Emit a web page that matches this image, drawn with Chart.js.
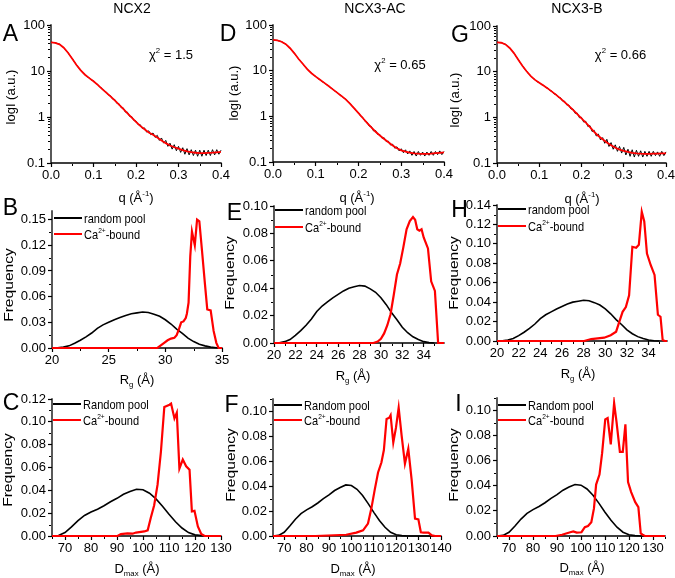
<!DOCTYPE html>
<html><head><meta charset="utf-8">
<script src="https://cdn.jsdelivr.net/npm/chart.js@4/dist/chart.umd.min.js"></script>
<style>
html,body{margin:0;padding:0;background:#fff}
body{width:675px;height:578px;position:relative;overflow:hidden;font-family:'Liberation Sans',Arial,Helvetica,sans-serif;color:#000}
canvas{position:absolute}
.t{position:absolute;white-space:nowrap;line-height:1}
sup,sub{font-size:0.6em;line-height:0}
</style>
</head><body>
<script>
// ---------- DATA ----------
const qFit=[0,0.01,0.02,0.03,0.04,0.05,0.06,0.07,0.08,0.09,0.10,0.11,0.12,0.13,0.14,0.15,0.16,0.17,0.18,0.19,0.20,0.21,0.22,0.23,0.24,0.25,0.26,0.27,0.28,0.29,0.30,0.31,0.32,0.33,0.34,0.35,0.36,0.37,0.38,0.39,0.40];
const qExp=[0,0.005,0.01,0.015,0.02,0.025,0.03,0.035,0.04,0.045,0.05,0.055,0.06,0.065,0.07,0.075,0.08,0.085,0.09,0.095,0.1,0.105,0.11,0.115,0.12,0.125,0.13,0.135,0.14,0.145,0.15,0.155,0.16,0.165,0.17,0.175,0.18,0.185,0.19,0.195,0.2,0.205,0.21,0.215,0.22,0.225,0.23,0.235,0.24,0.245,0.25,0.255,0.26,0.265,0.27,0.275,0.28,0.285,0.29,0.295,0.3,0.305,0.31,0.315,0.32,0.325,0.33,0.335,0.34,0.345,0.35,0.355,0.36,0.365,0.37,0.375,0.38,0.385,0.39,0.395,0.4];

const ncx2Exp=[42.3,41.6,41.2,39.4,38.3,35.1,32.2,28.3,25.2,21.4,18.7,15.7,13.6,11.7,10.4,9.1,8.4,7.5,7.1,6.4,6.1,5.4,5.1,4.45,4.2,3.65,3.5,3.0,2.9,2.45,2.4,1.98,1.95,1.6,1.58,1.28,1.27,1.03,1.02,0.84,0.82,0.68,0.68,0.56,0.58,0.47,0.50,0.41,0.45,0.36,0.40,0.31,0.35,0.27,0.31,0.23,0.27,0.2,0.25,0.185,0.23,0.17,0.215,0.155,0.205,0.15,0.195,0.145,0.19,0.14,0.19,0.14,0.19,0.145,0.19,0.145,0.195,0.15,0.195,0.155,0.19];
const ncx2Fit=[42,41,38,32,25,18.5,13.5,10.3,8.3,7.0,6.0,5.0,4.1,3.4,2.8,2.3,1.85,1.5,1.2,0.97,0.78,0.64,0.54,0.46,0.41,0.36,0.31,0.27,0.24,0.22,0.205,0.19,0.18,0.172,0.167,0.164,0.164,0.166,0.168,0.171,0.174];
const acExp=[47.4,46.5,46.2,44.5,43.3,40.4,38.2,34.3,31.2,27.3,24.2,20.6,18.1,15.8,14.1,12.2,10.9,9.6,8.9,7.95,7.5,6.7,6.35,5.75,5.45,4.95,4.65,4.2,3.95,3.55,3.35,3.0,2.85,2.52,2.4,2.08,1.94,1.66,1.53,1.3,1.21,1.01,0.95,0.78,0.75,0.61,0.6,0.48,0.49,0.4,0.4,0.33,0.34,0.28,0.285,0.235,0.245,0.2,0.215,0.175,0.195,0.16,0.185,0.15,0.175,0.14,0.17,0.135,0.17,0.14,0.165,0.135,0.165,0.14,0.17,0.14,0.17,0.145,0.175,0.145,0.17];
const acFit=[47,46,43,38,31,24,18,14,10.8,8.8,7.4,6.3,5.4,4.6,3.9,3.3,2.8,2.35,1.9,1.5,1.18,0.92,0.72,0.57,0.46,0.38,0.32,0.27,0.23,0.2,0.18,0.168,0.16,0.155,0.152,0.151,0.151,0.153,0.156,0.159,0.162];
const bExp=[44.3,43.6,43.2,41.2,39.8,36.2,33.3,29.0,25.8,21.6,18.7,15.6,13.7,11.6,10.3,8.9,8.1,7.15,6.7,6.0,5.8,5.2,5.05,4.5,4.4,3.85,3.75,3.25,3.2,2.75,2.7,2.28,2.25,1.87,1.86,1.52,1.52,1.22,1.24,0.98,1.0,0.79,0.82,0.63,0.66,0.49,0.52,0.39,0.43,0.32,0.36,0.27,0.33,0.23,0.28,0.2,0.25,0.18,0.23,0.165,0.22,0.15,0.2,0.14,0.195,0.135,0.19,0.14,0.185,0.135,0.18,0.14,0.18,0.14,0.18,0.145,0.175,0.14,0.18,0.145,0.175];
const bFit=[44,43,39.5,33,25.5,18.5,13.5,10.2,8.0,6.6,5.7,4.95,4.3,3.65,3.1,2.6,2.15,1.78,1.45,1.17,0.95,0.77,0.61,0.48,0.39,0.33,0.28,0.245,0.215,0.197,0.185,0.175,0.167,0.162,0.16,0.159,0.159,0.16,0.161,0.162,0.163];

// Rg distributions
const rgPoolX=[20,20.5,21,21.5,22,22.5,23,23.5,24,24.5,25,25.5,26,26.5,27,27.5,28,28.5,29,29.5,30,30.5,31,31.5,32,32.5,33,33.5,34,34.5,35];
const rgPool=[0,0.0002,0.001,0.0025,0.0055,0.009,0.013,0.0175,0.023,0.027,0.030,0.033,0.0355,0.038,0.040,0.041,0.042,0.0415,0.0395,0.037,0.033,0.028,0.022,0.017,0.0115,0.0075,0.0045,0.0025,0.001,0.0003,0];
const rgCaX_NCX2=[20,29.3,29.6,29.9,30.2,30.5,30.8,31.0,31.2,31.4,31.6,31.8,31.9,32.05,32.2,32.35,32.6,32.8,33.0,33.24,33.5,33.7,34.0,34.26,34.5,34.7,35];
const rgCa_NCX2=[0,0,0.003,0.006,0.009,0.011,0.012,0.015,0.022,0.03,0.031,0.035,0.04,0.053,0.107,0.136,0.12,0.15,0.148,0.113,0.074,0.045,0.044,0.02,0.006,0,0];
const rgCaX_AC=[20,29.3,29.7,30.0,30.3,30.6,30.9,31.2,31.5,31.8,32.1,32.4,32.7,33.0,33.2,33.4,33.6,33.8,34.0,34.4,34.7,35.05,35.35,35.9];
const rgCa_AC=[0,0,0.001,0.003,0.007,0.013,0.021,0.035,0.05,0.058,0.07,0.083,0.089,0.092,0.09,0.083,0.082,0.083,0.077,0.069,0.045,0.038,0,0];
const rgCaX_B=[20,28.05,28.7,29.9,30.5,31.0,31.3,31.6,31.9,32.2,32.5,32.85,33.1,33.37,33.6,33.85,34.2,34.55,34.86,35.1,35.3,35.5,35.7];
const rgCa_B=[0,0,0.002,0.0034,0.006,0.0096,0.02,0.03,0.035,0.047,0.097,0.096,0.099,0.133,0.123,0.09,0.078,0.068,0.027,0.025,0.001,0,0];

// Dmax distributions
const dPoolX=[65,67.5,70,72.5,75,77.5,80,82.5,85,87.5,90,92.5,95,97.5,100,102.5,105,107.5,110,112.5,115,117.5,120,122.5,125,127.5,130,132.5,135,137.5,140];
const dPool=[0,0.0005,0.003,0.008,0.0135,0.018,0.021,0.0235,0.0265,0.030,0.033,0.0365,0.039,0.041,0.0405,0.0375,0.0325,0.026,0.019,0.0125,0.007,0.003,0.001,0.0003,0,0,0,0,0,0,0];
const dCaX_NCX2=[65,90.2,91.5,94,96,97.3,100.5,101.8,103,104.3,105.6,106.9,108.2,110.2,110.8,112.1,113,114,115.3,116.6,117.9,118.8,119.8,121.1,122.4,123.7,130];
const dCa_NCX2=[0,0,0.0017,0.0023,0.002,0.003,0.004,0.005,0.016,0.027,0.045,0.074,0.113,0.115,0.116,0.103,0.108,0.059,0.067,0.061,0.058,0.0216,0.022,0.0084,0.0017,0,0];
const dCaX_AC=[65,84,97.7,102.2,105.2,107.4,108.9,110.4,111.9,113.4,114.5,115.7,116.9,117.5,118.7,119.9,121.1,122.4,123.9,125.4,126.9,128.4,129.9,131,132.2,134.4,135.9,137.4,140];
const dCa_AC=[0,0,0.001,0.0027,0.0045,0.01,0.022,0.037,0.051,0.059,0.069,0.094,0.095,0.097,0.075,0.087,0.103,0.081,0.058,0.07,0.045,0.014,0.0134,0.003,0.0027,0.0027,0.0005,0,0];
const dCaX_B=[65,89.4,92.1,95.5,96.8,98.2,100.2,101.6,102.9,104.3,105.4,106.3,107.7,108.8,110.1,111.1,112.4,113.8,114.8,116.2,117.4,118.5,119.6,120.9,122.6,123.9,124.9,125.7,126.6,135];
const dCa_B=[0,0,0.001,0.003,0.0037,0.0027,0.003,0.007,0.008,0.011,0.022,0.041,0.049,0.066,0.093,0.094,0.073,0.106,0.091,0.067,0.067,0.089,0.043,0.035,0.027,0.023,0.002,0.001,0,0];

// Tick labels
const qTicks=[0,0.1,0.2,0.3,0.4];
const logTicks=[0.1,1,10,100];
const rgTicksB=[20,25,30,35];
const rgTicksEH=[20,22,24,26,28,30,32,34];
const dTicksCI=[70,80,90,100,110,120,130];
const dTicksF=[70,80,90,100,110,120,130,140];
const freqTicksB=[0,0.03,0.06,0.09,0.12,0.15];
const freqTicksE=[0,0.02,0.04,0.06,0.08,0.10];
const freqTicksH=[0,0.02,0.04,0.06,0.08,0.10,0.12,0.14];
const freqTicksC=[0,0.02,0.04,0.06,0.08,0.10,0.12];
const freqTicksFI=[0,0.02,0.04,0.06,0.08,0.10];

// ---------- RENDER ----------
const FONT="'Liberation Sans', Arial, Helvetica, sans-serif";
const pts=(xs,ys)=>xs.map((x,i)=>({x:x,y:ys[i]}));
function mids(major,min,max){
  const out=[];
  for(let i=0;i<major.length-1;i++) out.push((major[i]+major[i+1])/2);
  const s=major[1]-major[0];
  if(major[0]-s/2>=min-1e-9) out.unshift(major[0]-s/2);
  const e=major[major.length-1]+s/2; if(e<=max+1e-9) out.push(e);
  return out;
}
function logMinor(){const o=[];[0.1,1,10].forEach(d=>{for(let k=2;k<10;k++)o.push(k*d);});return o;}

const axesPlugin={id:'axesUnder',beforeDatasetsDraw(chart){
  const ctx=chart.ctx,a=chart.chartArea;
  ctx.save();ctx.strokeStyle='#000';ctx.lineWidth=1.3;ctx.lineCap='square';
  ctx.beginPath();ctx.moveTo(a.left,a.top);ctx.lineTo(a.left,a.bottom);ctx.lineTo(a.right,a.bottom);ctx.stroke();
  ctx.restore();
}};
const minorPlugin={id:'minor',afterDraw(chart,args,opts){
  const ctx=chart.ctx,xs=chart.scales.x,ys=chart.scales.y,a=chart.chartArea;
  ctx.save();ctx.strokeStyle='#000';ctx.lineWidth=1;ctx.beginPath();
  (opts.x||[]).forEach(v=>{const p=Math.round(xs.getPixelForValue(v))+0.5;ctx.moveTo(p,a.bottom+1);ctx.lineTo(p,a.bottom+3);});
  (opts.y||[]).forEach(v=>{const p=Math.round(ys.getPixelForValue(v))+0.5;ctx.moveTo(a.left-1,p);ctx.lineTo(a.left-3,p);});
  ctx.stroke();ctx.restore();
}};

function panel(box,X,Y,datasets){
  const [l,t,r,b]=box, PL=50, PT=12, PR=16, PB=26;
  const c=document.createElement('canvas');
  const w=r-l+PL+PR, h=b-t+PT+PB;
  c.width=w;c.height=h;c.style.width=w+'px';c.style.height=h+'px';
  c.style.left=(l-PL)+'px';c.style.top=(t-PT)+'px';
  document.body.appendChild(c);
  const tickFont={family:FONT,size:13};
  new Chart(c,{type:'line',data:{datasets:datasets},
    options:{responsive:false,animation:false,devicePixelRatio:1,
      layout:{padding:{top:PT,right:PR,left:0,bottom:0}},
      elements:{point:{radius:0},line:{tension:0}},
      plugins:{legend:{display:false},tooltip:{enabled:false},minor:{x:X.minor,y:Y.minor}},
      scales:{
        x:{type:'linear',min:X.min,max:X.max,
          afterBuildTicks:s=>{s.ticks=X.major.map(v=>({value:v}));},
          afterFit:s=>{s.height=PB;},
          border:{display:false},
          grid:{drawOnChartArea:false,drawTicks:true,tickLength:4,tickColor:'#000',tickWidth:1.2},
          ticks:{color:'#000',font:tickFont,padding:1,maxRotation:0,autoSkip:false,callback:v=>X.fmt(v)}},
        y:{type:Y.log?'logarithmic':'linear',min:Y.min,max:Y.max,
          afterBuildTicks:s=>{s.ticks=Y.major.map(v=>({value:v}));},
          afterFit:s=>{s.width=PL;},
          border:{display:false},
          grid:{drawOnChartArea:false,drawTicks:true,tickLength:4,tickColor:'#000',tickWidth:1.2},
          ticks:{color:'#000',font:tickFont,padding:2,autoSkip:false,callback:v=>Y.fmt(v)}}
      }},
    plugins:[axesPlugin,minorPlugin]});
}
const f1=v=>v.toFixed(1), f0=v=>String(Math.round(v)), f2=v=>v.toFixed(2), flog=v=>String(v);
const blk=(d,w)=>({data:d,borderColor:'#000',borderWidth:w||1.6,fill:false,clip:{left:1,right:1,top:1,bottom:false}});
const red=(d,w)=>({data:d,borderColor:'#ff0000',borderWidth:w||2.2,fill:false,clip:{left:1,right:1,top:1,bottom:false}});
const qX={min:0,max:0.4,major:qTicks,minor:mids(qTicks,0,0.4),fmt:f1};
const logY={log:true,min:0.1,max:100,major:logTicks,minor:logMinor(),fmt:flog};

// Row 1: SAXS curves (fit listed first so it is drawn on top)
panel([51,25,221,163],qX,logY,[red(pts(qFit,ncx2Fit),1.8),blk(pts(qExp,ncx2Exp),1)]);
panel([273,25,444,162],qX,logY,[red(pts(qFit,acFit),1.8),blk(pts(qExp,acExp),1)]);
panel([497,26,666,163],qX,logY,[red(pts(qFit,bFit),1.8),blk(pts(qExp,bExp),1)]);
// Row 2: Rg
panel([52,211,222,348],{min:20,max:35,major:rgTicksB,minor:mids(rgTicksB,20,35),fmt:f0},
  {min:0,max:0.16,major:freqTicksB,minor:mids(freqTicksB,0,0.16),fmt:f2},
  [red(pts(rgCaX_NCX2,rgCa_NCX2)),blk(pts(rgPoolX,rgPool))]);
panel([274,206,444,343],{min:20,max:35.9,major:rgTicksEH,minor:mids(rgTicksEH,20,35.9),fmt:f0},
  {min:0,max:0.10,major:freqTicksE,minor:mids(freqTicksE,0,0.10),fmt:f2},
  [red(pts(rgCaX_AC,rgCa_AC)),blk(pts(rgPoolX,rgPool))]);
panel([497,205,667,341],{min:20,max:35.7,major:rgTicksEH,minor:mids(rgTicksEH,20,35.7),fmt:f0},
  {min:0,max:0.14,major:freqTicksH,minor:mids(freqTicksH,0,0.14),fmt:f2},
  [red(pts(rgCaX_B,rgCa_B)),blk(pts(rgPoolX,rgPool))]);
// Row 3: Dmax
panel([52,399,221,536],{min:65,max:130,major:dTicksCI,minor:mids(dTicksCI,65,130),fmt:f0},
  {min:0,max:0.12,major:freqTicksC,minor:mids(freqTicksC,0,0.12),fmt:f2},
  [red(pts(dCaX_NCX2,dCa_NCX2)),blk(pts(dPoolX,dPool))]);
panel([273,399,441,536],{min:65,max:140,major:dTicksF,minor:mids(dTicksF,65,140),fmt:f0},
  {min:0,max:0.11,major:freqTicksFI,minor:mids(freqTicksFI,0,0.11),fmt:f2},
  [red(pts(dCaX_AC,dCa_AC)),blk(pts(dPoolX,dPool))]);
panel([497,398,665,536],{min:65,max:135,major:dTicksCI,minor:mids(dTicksCI,65,135),fmt:f0},
  {min:0,max:0.11,major:freqTicksFI,minor:mids(freqTicksFI,0,0.11),fmt:f2},
  [red(pts(dCaX_B,dCa_B)),blk(pts(dPoolX,dPool))]);

// ---------- TEXT ----------
function txt(x,y,html,size,extra){
  const d=document.createElement('div');d.className='t';d.innerHTML=html;
  d.style.left=x+'px';d.style.top=y+'px';d.style.fontSize=size+'px';
  d.style.transform='translate(-50%,-50%)'+(extra||'');
  document.body.appendChild(d);return d;
}
txt(132,8,'NCX2',14);txt(375,8,'NCX3-AC',14);txt(577,8,'NCX3-B',14);
[['A',10.5,32.5],['B',10.5,206.5],['C',11,401.5],['D',228,32.5],['E',234.5,211.5],['F',231.5,403.5],['G',460,33.5],['H',459.5,209],['I',458.5,402.5]]
  .forEach(p=>txt(p[1],p[2],p[0],23));
txt(171,53.5,'&chi;<sup>2</sup> = 1.5',13);txt(400,64,'&chi;<sup>2</sup> = 0.65',13);txt(620.5,53.5,'&chi;<sup>2</sup> = 0.66',13);
const qT='q (&Aring;<sup>-1</sup>)', rT='R<sub>g</sub> (&Aring;)', dT='D<sub>max</sub> (&Aring;)';
txt(136,197,qT,13);txt(357,197,qT,13);txt(582,198,qT,13);
txt(137,379,rT,13);txt(353,375,rT,13);txt(578,373,rT,13);
txt(137,568,dT,13);txt(353,568,dT,13);txt(582,567,dT,13);
const rot=' rotate(-90deg)';
txt(10,97,'logI (a.u.)',13,rot);txt(233,93,'logI (a.u.)',13,rot);txt(454,100,'logI (a.u.)',13,rot);
const fq=' rotate(-90deg) scaleX(1.2)';
txt(8,285,'Frequency',13,fq);txt(7,470,'Frequency',13,fq);
txt(229,273,'Frequency',13,fq);txt(230,465,'Frequency',13,fq);
txt(453,273,'Frequency',13,fq);txt(453,465,'Frequency',13,fq);
function legend(x,y1,y2,t1){
  [[y1,'#000',t1],[y2,'#ff0000','Ca<sup>2+</sup>-bound']].forEach(r=>{
    const ln=document.createElement('div');
    ln.style.cssText='position:absolute;left:'+(x+1)+'px;top:'+(r[0]-0.75)+'px;width:28px;height:1.5px;background:'+r[1];
    document.body.appendChild(ln);
    const d=document.createElement('div');d.className='t';d.innerHTML=r[2];
    d.style.cssText+='left:'+(x+31)+'px;top:'+r[0]+'px;font-size:13px;transform-origin:0 50%;transform:translateY(-50%) scaleX(0.85)';
    document.body.appendChild(d);
  });
}
legend(53,218,234,'random pool');legend(274,210,227,'random pool');legend(497,209,226,'random pool');
legend(52,404,420,'Random pool');legend(273,405,420,'Random pool');legend(497,405,420,'Random pool');
</script>
</body></html>
